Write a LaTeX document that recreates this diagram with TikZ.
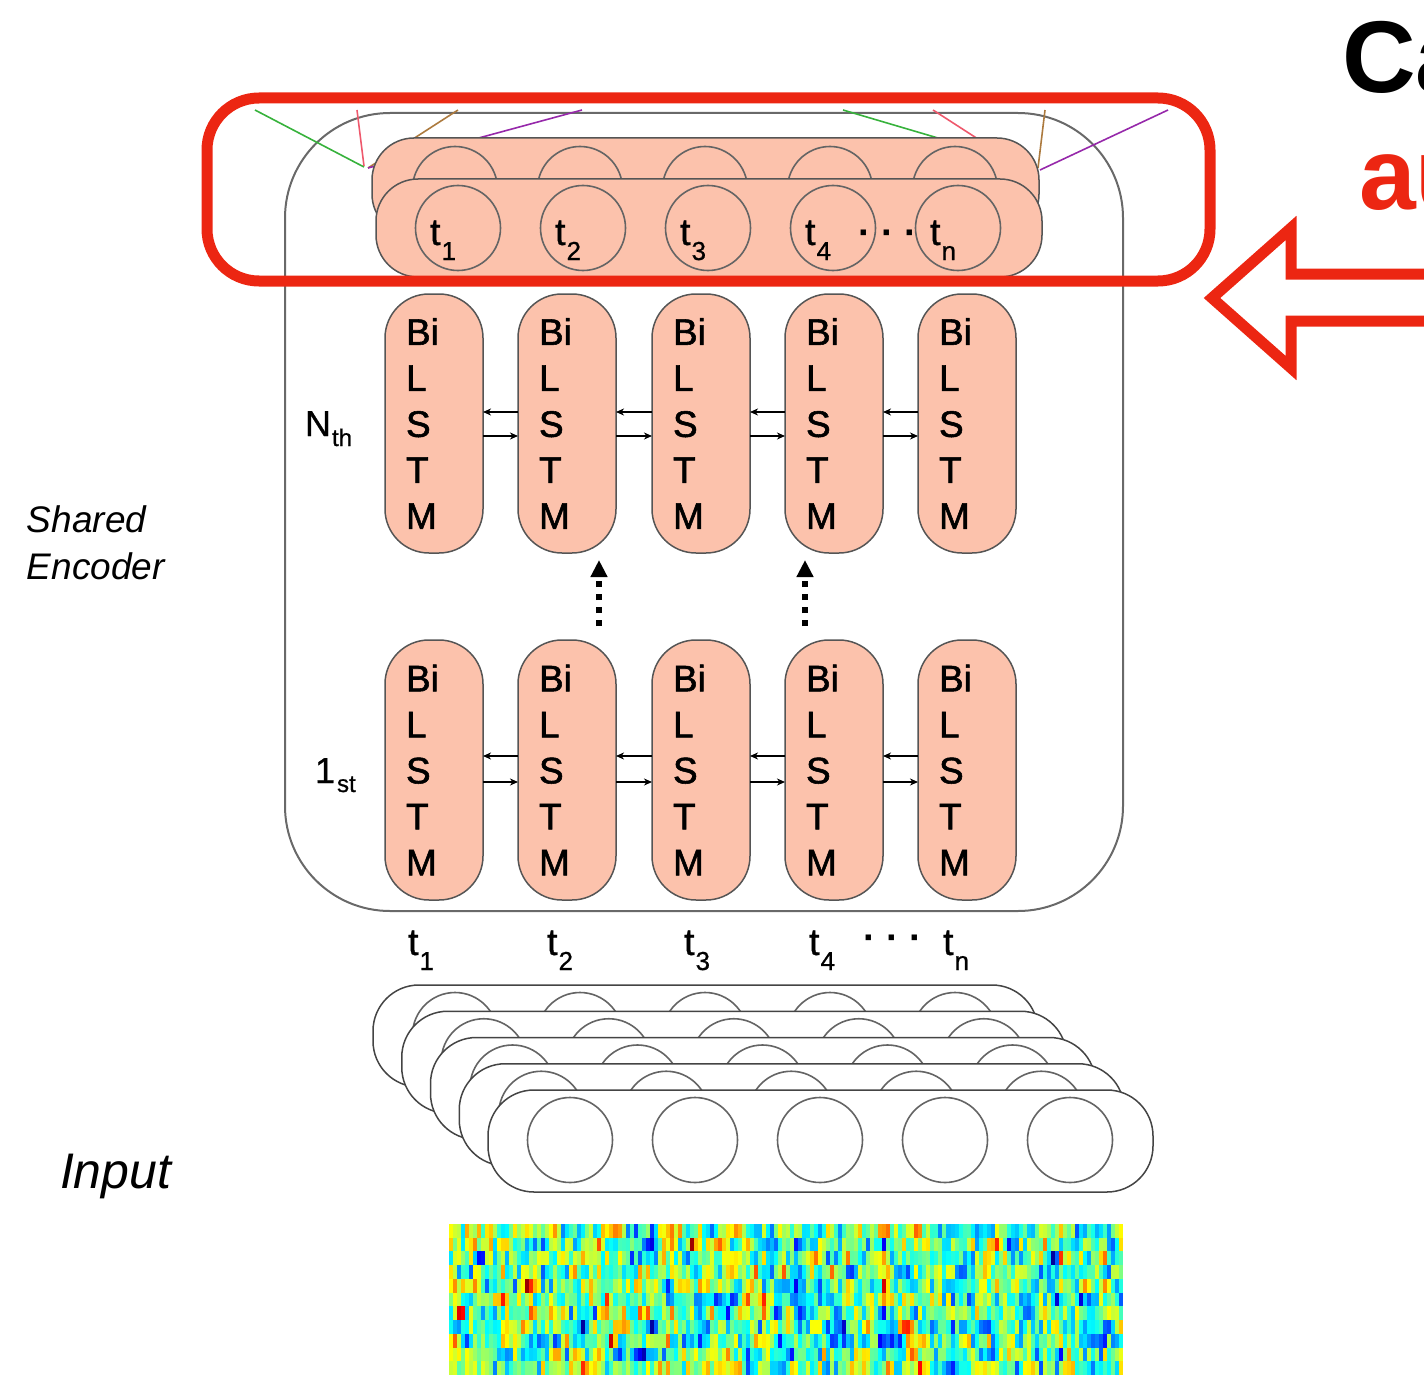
\documentclass[tikz,border=0pt]{standalone}
\usepackage{fontspec}
\setmainfont{Liberation Sans}
\newfontfamily\heavysans[FakeBold=1.5]{Liberation Sans}
\newfontfamily\semisans[FakeBold=0.8]{Liberation Sans}
\usetikzlibrary{arrows.meta}

\definecolor{salmon}{RGB}{252,194,172}
\definecolor{hlred}{RGB}{236,38,18}
\definecolor{edgegray}{RGB}{85,85,85}
\definecolor{ringgray}{RGB}{100,100,100}
\definecolor{encgray}{RGB}{105,105,105}
\definecolor{attgreen}{RGB}{55,178,60}
\definecolor{attpink}{RGB}{238,88,108}
\definecolor{attbrown}{RGB}{172,122,62}
\definecolor{attpurple}{RGB}{150,40,170}

\newcommand\fsz[1]{\fontsize{#1}{#1}\selectfont}
% time-step label: t with a lowered index
\newcommand\tlab[1]{{\semisans\fsz{38}t\kern1pt\lower15pt\hbox{\fsz{26}#1}}}

\tikzset{
  every node/.style={inner sep=0pt, outer sep=0pt},
  lstm/.style={draw=edgegray, line width=1.5pt, fill=salmon, rounded corners=44pt,
    minimum width=98pt, minimum height=259pt, text width=56pt, align=left,
    font=\heavysans\fontsize{37}{46}\selectfont},
  rowpill/.style={draw=edgegray, line width=1.5pt, fill=salmon, rounded corners=42pt,
    minimum width=666pt, minimum height=98pt},
  inpill/.style={draw=edgegray!80!black, line width=1.5pt, fill=white, rounded corners=46pt,
    minimum width=665pt, minimum height=102pt},
  ring/.style={circle, draw=ringgray, line width=1.6pt, minimum size=85pt},
  lstmarr/.style={-{Stealth[length=8pt,width=7pt,inset=2.5pt]}, line width=1.3pt},
  dotarr/.style={line width=6pt, dash pattern=on 6pt off 7pt,
    -{Triangle[length=17pt,width=16pt]}},
  attline/.style={line width=1.6pt},
  steplabel/.style={anchor=base west},
}

\begin{document}
\begin{tikzpicture}[x=1pt, y=-1pt]
\useasboundingbox (0,0) rectangle (1424,1375);

% shared encoder frame
\node[draw=encgray, line width=2pt, rounded corners=105pt,
      minimum width=838pt, minimum height=798pt] (enc) at (704,512) {};

% attention lines entering the output layer
\draw[attline, attgreen]  (255,110) -- (364,167);
\draw[attline, attpink]   (357,110) -- (364,166);
\draw[attline, attbrown]  (458,110) -- (368,168);
\draw[attline, attpurple] (582,110) -- (368,168);
\draw[attline, attgreen]  (843,110) -- (965,146);
\draw[attline, attpink]   (933,110) -- (995,150);
\draw[attline, attbrown]  (1045,110) -- (1038,168);
\draw[attline, attpurple] (1168,110) -- (1040,170);

% output layer: two stacked rows of units
\node[rowpill, minimum width=667pt] (backrow) at (705.5,187) {};
\foreach \j in {0,...,4}
  \node[ring, fill=salmon] (bc\j) at (455+125*\j,189) {};
\node[rowpill] (frontrow) at (709,228) {};
\foreach \j/\lab in {0/1,1/2,2/3,3/4,4/n} {
  \node[ring, fill=salmon] (fc\j) at (458+125*\j,228) {};
  \node[steplabel] (fl\j) at (430+125*\j,245) {\tlab{\lab}};
}
\node[anchor=base] (fdots) at (888,245) {\fsz{38}\bfseries· · ·};

% highlight around the output layer
\node[draw=hlred, line width=11pt, rounded corners=52pt,
      minimum width=1003pt, minimum height=183pt] (focus) at (708.5,189.5) {};

% hollow pointer arrow
\draw[hlred, line width=11pt, line join=miter, miter limit=10]
  (1440,274) -- (1291,274) -- (1291,228) -- (1212,298) -- (1291,368)
  -- (1291,321) -- (1440,321);

% heading words
\node[anchor=base west, font=\fsz{102}\bfseries] (headA) at (1342,93) {Ca};
\node[anchor=base west, font=\fsz{102}\bfseries, text=hlred] (headB) at (1359,210) {au};

% BiLSTM layers
\foreach \i/\x in {1/434,2/567,3/701,4/834,5/967} {
  \node[lstm] (top\i) at (\x,423.5) {Bi\\L\\S\\T\\M};
  \node[lstm, minimum height=260pt] (bot\i) at (\x,770) {Bi\\L\\S\\T\\M};
}
\foreach \i [evaluate=\i as \j using int(\i+1)] in {1,...,4} {
  \draw[lstmarr] ([yshift=11.5pt]top\j.west) -- ([yshift=11.5pt]top\i.east);
  \draw[lstmarr] ([yshift=-12.5pt]top\i.east) -- ([yshift=-12.5pt]top\j.west);
  \draw[lstmarr] ([yshift=14pt]bot\j.west) -- ([yshift=14pt]bot\i.east);
  \draw[lstmarr] ([yshift=-12pt]bot\i.east) -- ([yshift=-12pt]bot\j.west);
}
\draw[dotarr] ([xshift=32pt,yshift=14pt]bot2.north) -- ([xshift=32pt,yshift=-7pt]top2.south);
\draw[dotarr] ([xshift=-29pt,yshift=14pt]bot4.north) -- ([xshift=-29pt,yshift=-7pt]top4.south);

% layer names
\node[anchor=base west] (nth) at (305,436) {\semisans\fsz{36}N\kern1pt\lower10pt\hbox{\fsz{24}th}};
\node[anchor=base west] (first) at (315,783) {\semisans\fsz{36}1\kern2pt\lower9pt\hbox{\fsz{24}st}};
\node[anchor=north west, align=left, font=\fontsize{37}{47}\selectfont\itshape]
  (encname) at (27,506) {Shared\\Encoder};

% input time steps
\foreach \x/\lab [count=\c] in {408/1,547/2,684/3,809/4,943/n}
  \node[steplabel] (bl\c) at (\x,955) {\tlab{\lab}};
\node[anchor=base] (bdots) at (893,950) {\fsz{38}\bfseries· · ·};

% stacked input frames
\foreach \k in {0,...,4} {
  \pgfmathsetmacro\lx{373+28.75*\k}
  \pgfmathsetmacro\ty{985+26.25*\k}
  \node[inpill] (in\k) at (\lx+332.5,\ty+51) {};
  \foreach \j in {0,...,4}
    \node[ring, fill=white] (inc\k-\j) at (\lx+82+125*\j,\ty+50) {};
}
\node[anchor=base west, font=\fsz{50}\itshape] (inname) at (60,1188) {Input};

% spectrogram with a jet colour map; neighbouring bins are correlated
\pgfmathsetseed{4242}
\foreach \r in {0,...,10} {
  \gdef\prevv{0.5}
  \foreach \c in {0,...,167} {
    \pgfmathsetmacro\vv{max(0.03,min(0.97,0.4*\prevv+0.6*(0.5+0.25*(rand+rand))+0.8*rand*rand*rand*rand*rand-0.02))}
    \xdef\prevv{\vv}
    \pgfmathsetmacro\vr{max(0,min(1,1.5-abs(4*\vv-3)))}
    \pgfmathsetmacro\vg{max(0,min(1,1.5-abs(4*\vv-2)))}
    \pgfmathsetmacro\vb{max(0,min(1,1.5-abs(4*\vv-1)))}
    \definecolor{cellcol}{rgb}{\vr,\vg,\vb}
    \fill[cellcol] (449+\c*4.012,1224+\r*13.73) rectangle +(4.2,13.9);
  }
}
\end{tikzpicture}
\end{document}
